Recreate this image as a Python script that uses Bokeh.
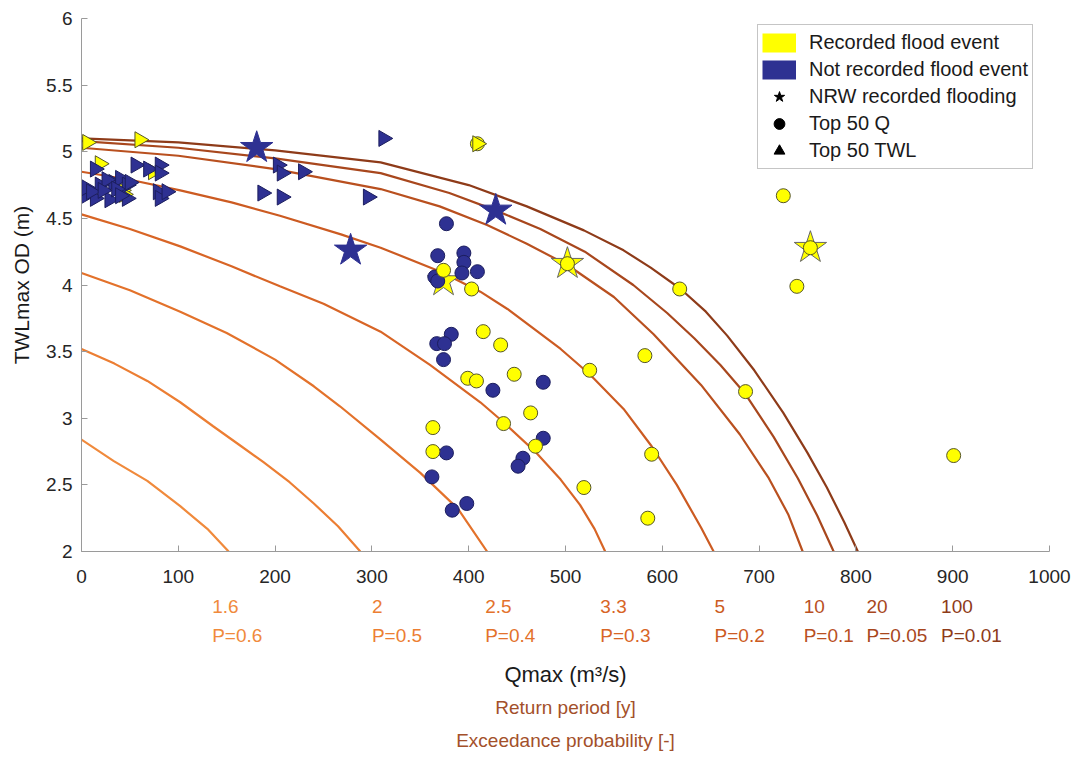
import math
from bokeh.plotting import figure
from bokeh.layouts import column
from bokeh.models import (Range1d, FixedTicker, NumeralTickFormatter, Title,
                          Legend, LegendItem, ColumnDataSource)
from bokeh.core.properties import value
from bokeh.embed import file_html
from bokeh.resources import INLINE

# ---------------- data ----------------
# Top 50 Q events (circles)
rec_q_x = [725, 753, 739, 686, 901, 502, 618, 415, 433, 582, 447, 525, 464, 436,
           589, 469, 519, 585, 374, 403, 399, 408, 363, 363, 409]
rec_q_y = [4.67, 4.28, 3.99, 3.20, 2.72, 4.16, 3.97, 3.65, 3.55, 3.47, 3.33, 3.36,
           3.04, 2.96, 2.73, 2.79, 2.48, 2.25, 4.11, 3.97, 3.30, 3.28, 2.93, 2.75, 5.06]
nrec_q_x = [377, 368, 395, 395, 393, 409, 365, 368, 382, 367, 375, 374, 425, 477,
            477, 456, 451, 377, 362, 398, 383]
nrec_q_y = [4.46, 4.22, 4.24, 4.17, 4.09, 4.10, 4.06, 4.03, 3.63, 3.56, 3.56, 3.44,
            3.21, 3.27, 2.85, 2.70, 2.64, 2.74, 2.56, 2.36, 2.31]

# Top 50 TWL events (triangles)
rec_twl_x = [6, 60, 19, 42, 74, 409, 44]
rec_twl_y = [5.07, 5.09, 4.91, 4.71, 4.85, 5.06, 4.68]
nrec_twl_x = [14, 56, 69, 81, 81, 203, 207, 229, 187, 207, 296, 312,
              2, 14, 29, 47, 5, 19, 33, 40, 47, 26, 10, 22, 36, 79, 81, 88, 50, 40]
nrec_twl_y = [4.87, 4.90, 4.87, 4.90, 4.84, 4.90, 4.84, 4.85, 4.69, 4.66, 4.66, 5.10,
              4.66, 4.65, 4.64, 4.65, 4.73, 4.75, 4.77, 4.80, 4.75, 4.79, 4.70, 4.71,
              4.72, 4.70, 4.65, 4.70, 4.77, 4.67]

# NRW recorded flooding (stars)
rec_nrw_x = [374, 502, 753]
rec_nrw_y = [4.03, 4.16, 4.28]
nrec_nrw_x = [181, 278, 428]
nrec_nrw_y = [5.03, 4.26, 4.56]

# Joint exceedance probability contours
c60_q = [0, 33, 68, 102, 130, 152]
c60_h = [2.84, 2.68, 2.53, 2.34, 2.17, 2.0]
c50_q = [0, 34, 68, 102, 136, 165, 188, 215, 240, 265, 288]
c50_h = [3.52, 3.41, 3.28, 3.12, 2.94, 2.79, 2.67, 2.52, 2.36, 2.19, 2.0]
c40_q = [0, 50, 102, 150, 200, 240, 267, 309, 350, 389, 419]
c40_h = [4.09, 3.96, 3.80, 3.64, 3.44, 3.24, 3.09, 2.84, 2.59, 2.32, 2.0]
c30_q = [0, 50, 102, 155, 205, 250, 309, 360, 412, 436, 470, 495, 515, 530, 541]
c30_h = [4.53, 4.42, 4.29, 4.14, 3.99, 3.86, 3.65, 3.40, 3.12, 2.97, 2.74, 2.54,
         2.35, 2.17, 2.0]
c20_q = [0, 50, 102, 155, 205, 268, 309, 371, 412, 440, 495, 525, 560, 589, 615,
         640, 653]
c20_h = [4.85, 4.79, 4.71, 4.62, 4.52, 4.38, 4.28, 4.10, 3.95, 3.82, 3.52, 3.33,
         3.07, 2.79, 2.50, 2.18, 2.0]
c10_q = [0, 100, 200, 309, 370, 419, 460, 502, 550, 591, 640, 680, 710, 730, 745]
c10_h = [5.03, 4.97, 4.87, 4.72, 4.59, 4.45, 4.31, 4.15, 3.91, 3.63, 3.25, 2.88,
         2.55, 2.28, 2.0]
c05_q = [0, 100, 200, 309, 380, 428, 474, 520, 570, 605, 633, 660, 685, 715, 740,
         760, 777]
c05_h = [5.08, 5.03, 4.95, 4.84, 4.69, 4.56, 4.42, 4.25, 4.00, 3.79, 3.60, 3.40,
         3.19, 2.86, 2.55, 2.27, 2.0]
c01_q = [0, 100, 200, 309, 400, 460, 519, 560, 588, 619, 645, 667, 695, 725, 750,
         770, 788, 802]
c01_h = [5.10, 5.07, 5.01, 4.92, 4.75, 4.59, 4.41, 4.26, 4.13, 3.97, 3.80, 3.62,
         3.36, 3.04, 2.74, 2.48, 2.22, 2.0]

return_periods = ["1.6", "2", "2.5", "3.3", "5", "10", "20", "100"]
exceed_probs = ["P=0.6", "P=0.5", "P=0.4", "P=0.3", "P=0.2", "P=0.1", "P=0.05", "P=0.01"]
label_q = [135, 300, 417, 536, 654, 746, 811, 888]

x_ticks = [0, 100, 200, 300, 400, 500, 600, 700, 800, 900, 1000]
y_ticks = [2, 2.5, 3, 3.5, 4, 4.5, 5, 5.5, 6]

# ---------------- styling ----------------
FONT = "Liberation Sans"
YELLOW = "#FFFF00"
NAVY = "#2E3192"
curve_colors = ["#F08A3C", "#EC7E33", "#E3722B", "#D86526",
                "#CC5B22", "#B9501F", "#A8471D", "#8E3B19"]
TITLE_BROWN = "#A3502A"
NAN = float("nan")
W = 1078

p = figure(width=W, height=593, output_backend="svg", toolbar_location=None,
           x_range=Range1d(0, 1000), y_range=Range1d(2, 6),
           min_border_left=81, min_border_right=29, min_border_top=18,
           min_border_bottom=42)
p.outline_line_color = None
p.xgrid.visible = False
p.ygrid.visible = False

for ax in (p.xaxis[0], p.yaxis[0]):
    ax.axis_line_color = "#9a9a9a"
    ax.major_tick_line_color = "#9a9a9a"
    ax.minor_tick_line_color = None
    ax.major_tick_in = 6
    ax.major_tick_out = 0
    ax.major_label_text_font = FONT
    ax.major_label_text_font_size = "19px"
    ax.major_label_text_color = "#262626"
    ax.axis_label_text_font = FONT
    ax.axis_label_text_font_size = "21px"
    ax.axis_label_text_font_style = "normal"
    ax.axis_label_text_color = "#1a1a1a"

p.xaxis.ticker = FixedTicker(ticks=x_ticks)
p.yaxis.ticker = FixedTicker(ticks=y_ticks)
p.yaxis.formatter = NumeralTickFormatter(format="0.[0]")
p.xaxis.major_label_standoff = 18
p.yaxis.major_label_standoff = 9
p.yaxis.axis_label = "TWLmax OD (m)"
p.yaxis.axis_label_standoff = 10

# contours
curves = [(c60_q, c60_h), (c50_q, c50_h), (c40_q, c40_h), (c30_q, c30_h),
          (c20_q, c20_h), (c10_q, c10_h), (c05_q, c05_h), (c01_q, c01_h)]
for (cq, ch), col in zip(curves, curve_colors):
    p.line(cq, ch, line_color=col, line_width=2.2)

# stars
p.scatter(nrec_nrw_x, nrec_nrw_y, marker="star", size=34, fill_color=NAVY,
          line_color=NAVY, line_width=1)
p.scatter(rec_nrw_x, rec_nrw_y, marker="star", size=34, fill_color=YELLOW,
          line_color="#666666", line_width=1)
# circles
p.scatter(nrec_q_x, nrec_q_y, marker="circle", size=14, fill_color=NAVY,
          line_color="#1c1e5e", line_width=1)
p.scatter(rec_q_x, rec_q_y, marker="circle", size=14, fill_color=YELLOW,
          line_color="#55552a", line_width=1)
# triangles
p.scatter(rec_twl_x, rec_twl_y, marker="triangle", angle=-math.pi / 2, size=16,
          fill_color=YELLOW, line_color="#55552a", line_width=1)
p.scatter(nrec_twl_x, nrec_twl_y, marker="triangle", angle=-math.pi / 2, size=16,
          fill_color=NAVY, line_color="#1c1e5e", line_width=1)

# legend proxies (no visible data)
lg_rec = p.line(x=[NAN], y=[NAN], line_color=YELLOW, line_width=19)
lg_nrec = p.line(x=[NAN], y=[NAN], line_color=NAVY, line_width=19)
lg_star = p.scatter(x=[NAN], y=[NAN], marker="star", size=22, fill_color="black",
                    line_color="black")
lg_circ = p.scatter(x=[NAN], y=[NAN], marker="circle", size=22, fill_color="black",
                    line_color="black")
lg_tri = p.scatter(x=[NAN], y=[NAN], marker="triangle", angle=-math.pi / 2, size=22,
                   fill_color="black", line_color="black")
legend = Legend(items=[
    LegendItem(label="Recorded flood event", renderers=[lg_rec]),
    LegendItem(label="Not recorded flood event", renderers=[lg_nrec]),
    LegendItem(label="NRW recorded flooding", renderers=[lg_star]),
    LegendItem(label="Top 50 Q", renderers=[lg_circ]),
    LegendItem(label="Top 50 TWL", renderers=[lg_tri]),
], location=(676, 382))
legend.glyph_width = 34
legend.glyph_height = 27
legend.label_height = 27
legend.spacing = 0
legend.padding = 4
legend.margin = 0
legend.label_standoff = 13
legend.label_text_font = FONT
legend.label_text_font_size = "20px"
legend.label_text_color = "#1a1a1a"
legend.border_line_color = "#8c8c8c"
legend.border_line_width = 1
p.add_layout(legend)

# ---------------- lower panel: return periods, probabilities, axis titles ----------------
q = figure(width=W, height=164, output_backend="svg", toolbar_location=None,
           x_range=p.x_range, y_range=Range1d(0, 60), y_axis_location=None,
           min_border_left=81, min_border_right=29, min_border_top=0,
           min_border_bottom=104)
q.outline_line_color = None
q.xgrid.visible = False
q.ygrid.visible = False
qa = q.xaxis[0]
qa.ticker = FixedTicker(ticks=[])
qa.axis_line_color = None
qa.major_tick_line_color = None
qa.minor_tick_line_color = None
qa.major_tick_in = 0
qa.major_tick_out = 0
qa.axis_label = "Qmax (m³/s)"
qa.axis_label_text_font = FONT
qa.axis_label_text_font_size = "22px"
qa.axis_label_text_font_style = "normal"
qa.axis_label_text_color = "#1a1a1a"
qa.axis_label_standoff = 8

src_rp = ColumnDataSource(dict(x=label_q, y=[47] * len(label_q), text=return_periods,
                               color=curve_colors))
src_pr = ColumnDataSource(dict(x=label_q, y=[18] * len(label_q), text=exceed_probs,
                               color=curve_colors))
for src in (src_rp, src_pr):
    q.text(x="x", y="y", text="text", source=src, text_color="color",
           text_font=value(FONT), text_font_size="19px", text_baseline="middle",
           text_align="left")

for txt, so in (("Return period [y]", 10), ("Exceedance probability [-]", 11)):
    q.add_layout(Title(text=txt, align="center", text_color=TITLE_BROWN,
                       text_font=FONT, text_font_size="19px",
                       text_font_style="normal", standoff=so), "below")

open("out.html", "w").write(file_html(column(p, q, spacing=0), INLINE))
